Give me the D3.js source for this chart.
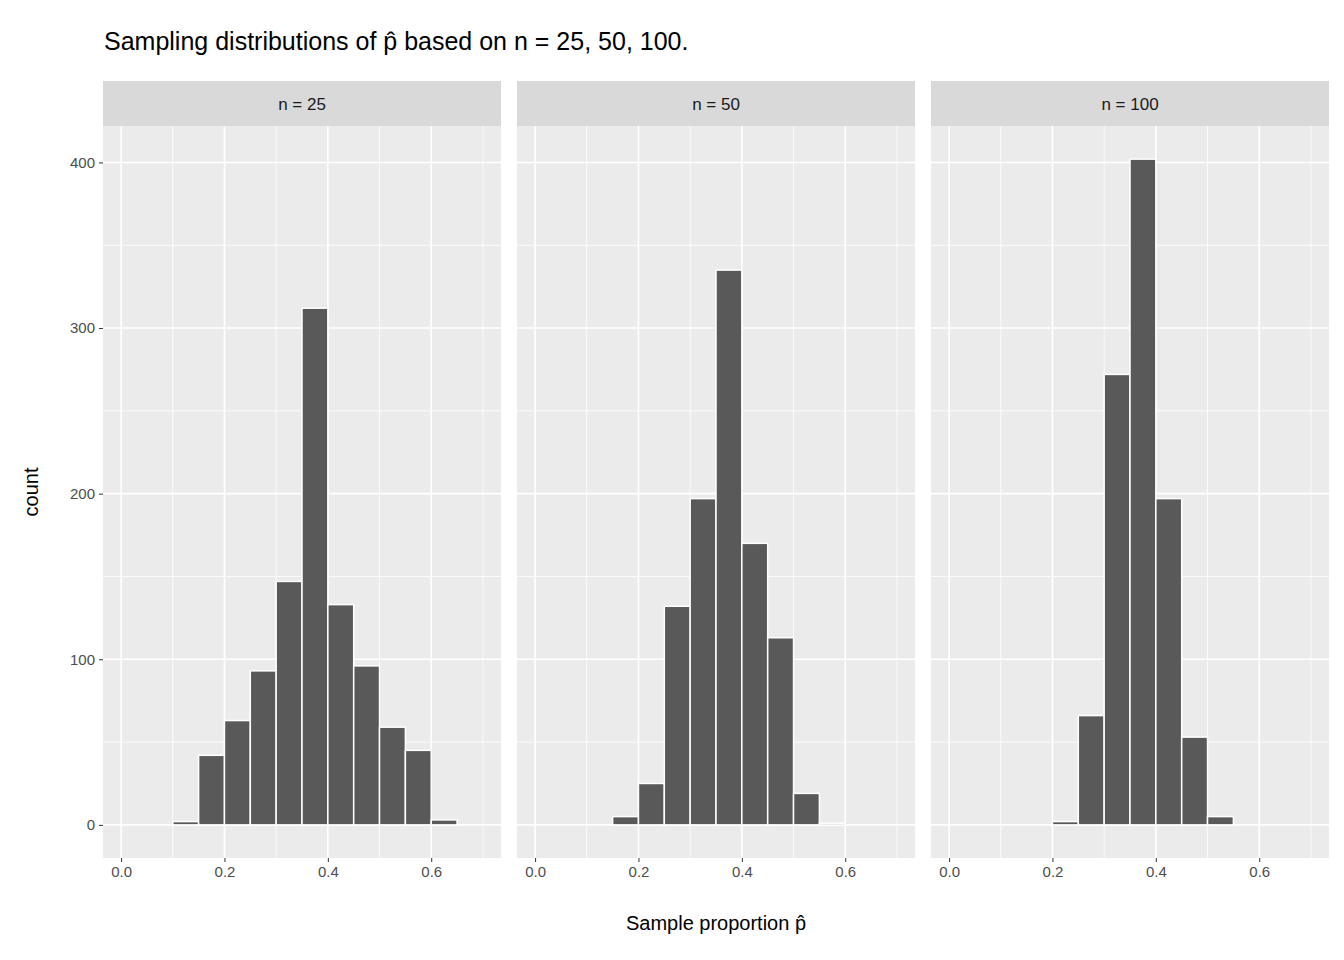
<!DOCTYPE html>
<html><head><meta charset="utf-8">
<script src="https://cdn.jsdelivr.net/npm/d3@7"></script>
<style>body{margin:0;background:#fff}text{font-family:"Liberation Sans",Arial,sans-serif}</style>
</head><body><svg id="c" width="1344" height="960"></svg>
<script>
const panels = ["n = 25", "n = 50", "n = 100"];
const binStarts = [0, 0.05, 0.1, 0.15, 0.2, 0.25, 0.3, 0.35, 0.4, 0.45, 0.5, 0.55, 0.6, 0.65];
const counts25 = [0, 0, 2, 42, 63, 93, 147, 312, 133, 96, 59, 45, 3, 0];
const counts50 = [0, 0, 0, 5, 25, 132, 197, 335, 170, 113, 19, 1, 0, 0];
const counts100 = [0, 0, 0, 0, 2, 66, 272, 402, 197, 53, 5, 0, 0, 0];
const allCounts = [counts25, counts50, counts100];
const xTicks = [0, 0.2, 0.4, 0.6];
const yTicks = [0, 100, 200, 300, 400];
const binWidth = 0.05;

const svg = d3.select("#c");
const left0 = 103, pw = 398, gap = 16, pTop = 126, pBottom = 858;
const y = d3.scaleLinear().domain([-20, 422]).range([pBottom, pTop]);

svg.append("text").attr("x", 104).attr("y", 50).attr("font-size", 25).attr("fill", "#000")
  .text("Sampling distributions of p\u0302 based on n = 25, 50, 100.");

panels.forEach((name, i) => {
  const x0 = left0 + i * (pw + gap);
  const x = d3.scaleLinear().domain([-0.035, 0.735]).range([x0, x0 + pw]);
  const g = svg.append("g");
  g.append("rect").attr("x", x0).attr("y", 81).attr("width", pw).attr("height", 45).attr("fill", "#d9d9d9");
  g.append("text").attr("x", x0 + pw / 2).attr("y", 110).attr("text-anchor", "middle")
    .attr("font-size", 17).attr("fill", "#1a1a1a").text(name);
  g.append("rect").attr("x", x0).attr("y", pTop).attr("width", pw).attr("height", pBottom - pTop).attr("fill", "#ebebeb");
  // minor grid
  [0.1, 0.3, 0.5, 0.7].forEach(v => g.append("line").attr("x1", x(v)).attr("x2", x(v)).attr("y1", pTop).attr("y2", pBottom).attr("stroke", "#fff").attr("stroke-width", 0.8));
  [50, 150, 250, 350].forEach(v => g.append("line").attr("x1", x0).attr("x2", x0 + pw).attr("y1", y(v)).attr("y2", y(v)).attr("stroke", "#fff").attr("stroke-width", 0.8));
  xTicks.forEach(v => g.append("line").attr("x1", x(v)).attr("x2", x(v)).attr("y1", pTop).attr("y2", pBottom).attr("stroke", "#fff").attr("stroke-width", 1.6));
  yTicks.forEach(v => g.append("line").attr("x1", x0).attr("x2", x0 + pw).attr("y1", y(v)).attr("y2", y(v)).attr("stroke", "#fff").attr("stroke-width", 1.6));
  g.selectAll("rect.bar").data(binStarts).join("rect").attr("class", "bar")
    .attr("x", d => x(d)).attr("width", d => x(d + binWidth) - x(d))
    .attr("y", (d, j) => y(allCounts[i][j])).attr("height", (d, j) => y(0) - y(allCounts[i][j]))
    .attr("fill", "#595959").attr("stroke", "#fff").attr("stroke-width", 1.5);
  const ax = g.append("g").attr("transform", `translate(0,${pBottom})`)
    .call(d3.axisBottom(x).tickValues(xTicks).tickFormat(d3.format(".1f")).tickSize(4).tickPadding(4));
  ax.select(".domain").remove();
  ax.selectAll("line").attr("stroke", "#333");
  ax.selectAll("text").attr("font-size", 15).attr("fill", "#4d4d4d").attr("font-family", "Liberation Sans, Arial");
});

const ay = svg.append("g").attr("transform", `translate(${left0},0)`)
  .call(d3.axisLeft(y).tickValues(yTicks).tickSize(4).tickPadding(4));
ay.select(".domain").remove();
ay.selectAll("line").attr("stroke", "#333");
ay.selectAll("text").attr("font-size", 15).attr("fill", "#4d4d4d").attr("font-family", "Liberation Sans, Arial");

svg.append("text").attr("x", 716).attr("y", 930).attr("text-anchor", "middle").attr("font-size", 20)
  .text("Sample proportion p\u0302");
svg.append("text").attr("transform", "translate(38,492) rotate(-90)").attr("text-anchor", "middle").attr("font-size", 20).text("count");
</script></body></html>
